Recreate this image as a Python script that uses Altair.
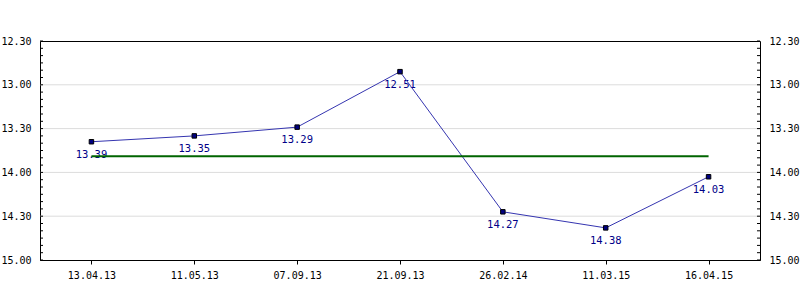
import altair as alt
import pandas as pd

dates = ["13.04.13", "11.05.13", "07.09.13", "21.09.13", "26.02.14", "11.03.15", "16.04.15"]
times = ["13.39", "13.35", "13.29", "12.51", "14.27", "14.38", "14.03"]
major_ticks = ["12.30", "13.00", "13.30", "14.00", "14.30", "15.00"]
grid_ticks = ["13.00", "13.30", "14.00", "14.30"]


def to_min(s):
    m, sec = s.split(".")
    return int(m) + int(sec) / 60.0


df = pd.DataFrame({"date": dates, "label": times, "t": [to_min(s) for s in times]})
avg = df["t"].mean()
mean_df = pd.DataFrame({"d1": [dates[0]], "d2": [dates[-1]], "t": [avg]})
grid_df = pd.DataFrame({"t": [to_min(s) for s in grid_ticks]})
major_vals = [to_min(s) for s in major_ticks]
minor_df = pd.DataFrame({"t": [12.5 + k / 12.0 for k in range(31)]})

FONT = "DejaVu Sans Mono"
yscale = alt.Scale(domain=[12.5, 15.0], reverse=True, nice=False, zero=False)
xscale = alt.Scale(type="point", padding=0.5, domain=dates)
label_expr = ("floor(datum.value) + '.' + (round((datum.value - floor(datum.value))*60) < 10 ? '0' : '')"
              " + round((datum.value - floor(datum.value))*60)")

def yaxis(orient):
    return alt.Axis(orient=orient, values=major_vals, labelExpr=label_expr, ticks=False, tickSize=0,
                    grid=False, domain=False, labelPadding=9, labelFont=FONT, labelFontSize=10,
                    labelColor="black", title=None,
                    labelAlign="right" if orient == "left" else "left")

xaxis = alt.Axis(title=None, labelFont=FONT, labelFontSize=10, labelColor="black", labelAngle=0,
                 tickColor="black", tickSize=4, domainColor="black", labelPadding=6, grid=False)

grid = alt.Chart(grid_df).mark_rule(color="#dcdcdc", strokeWidth=1).encode(
    y=alt.Y("t:Q", scale=yscale, axis=yaxis("left")),
    x=alt.value(0), x2=alt.value(720))

minor_left = alt.Chart(minor_df).mark_rule(color="black", strokeWidth=1).encode(
    y=alt.Y("t:Q", scale=yscale, axis=yaxis("right")),
    x=alt.value(0), x2=alt.value(3))
minor_right = alt.Chart(minor_df).mark_rule(color="black", strokeWidth=1).encode(
    y=alt.Y("t:Q", scale=yscale, axis=None),
    x=alt.value(717), x2=alt.value(720))

base = alt.Chart(df).encode(
    x=alt.X("date:N", scale=xscale, axis=xaxis),
    y=alt.Y("t:Q", scale=yscale, axis=None))

labels = base.mark_text(font=FONT, fontSize=10.5, color="#000088", dy=13, baseline="middle").encode(text="label:N")
line = base.mark_line(color="#3535b0", strokeWidth=1)
points = base.mark_square(size=20, fill="#000080", stroke="black", strokeWidth=1, opacity=1)
mean_rule = alt.Chart(mean_df).mark_rule(color="#006400", strokeWidth=2).encode(
    x=alt.X("d1:N", scale=xscale, axis=xaxis),
    x2="d2:N",
    y=alt.Y("t:Q", scale=yscale, axis=None))

chart = alt.layer(grid, minor_left, minor_right, labels, line, points, mean_rule).resolve_axis(
    y="independent").properties(
    width=720, height=219,
    autosize=alt.AutoSizeParams(type="none"),
    padding={"left": 40, "top": 41, "right": 40, "bottom": 40},
    background="white",
).configure_view(stroke="black", strokeWidth=1)

chart.save("out.html", embed_options={"renderer": "svg", "actions": False})
